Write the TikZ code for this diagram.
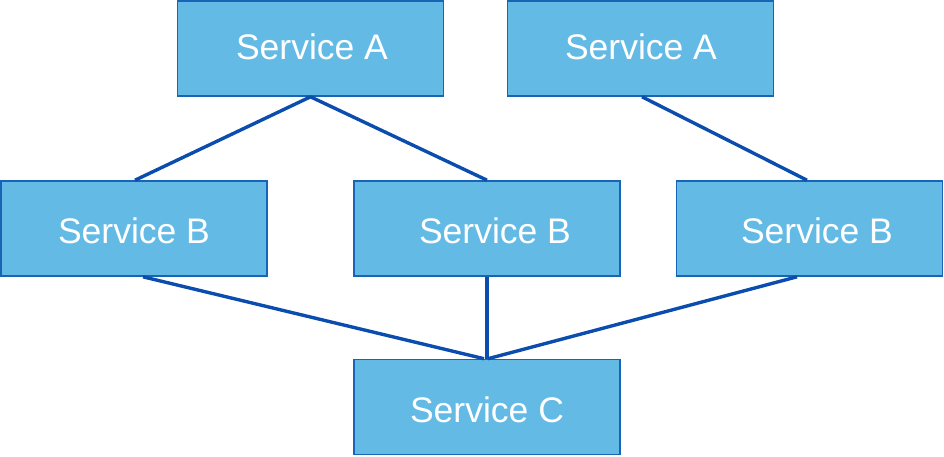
\documentclass[tikz,border=0pt]{standalone}
\usepackage{fontspec}
\setmainfont{Liberation Sans}
\usetikzlibrary{calc}
\definecolor{boxfill}{HTML}{63BBE5}
\definecolor{boxline}{HTML}{1A64B8}
\definecolor{linkcol}{HTML}{0A4DAE}
\begin{document}
\begin{tikzpicture}[x=1pt,y=-1pt,
  svc/.style={draw=boxline, fill=boxfill, line width=1.6pt, minimum width=266pt, minimum height=95pt, inner sep=0pt},
  svctext/.style={text=white, font=\fontsize{35.5}{40}\selectfont, inner sep=0pt},
  link/.style={draw=linkcol, line width=3.4pt}]
\useasboundingbox (0,0) rectangle (944,456);
\node[svc, label={[svctext, xshift=1.5pt, yshift=2pt]center:Service A}] (a1) at (310.5,48.5) {};
\node[svc, label={[svctext, xshift=0.5pt, yshift=2pt]center:Service A}] (a2) at (640.5,48.5) {};
\node[svc, label={[svctext, yshift=-2pt]center:Service B}] (b1) at (134,228.5) {};
\node[svc, label={[svctext, xshift=8pt, yshift=-2pt]center:Service B}] (b2) at (487,228.5) {};
\node[svc, label={[svctext, xshift=7.5pt, yshift=-2pt]center:Service B}] (b3) at (809.5,228.5) {};
\node[svc, label={[svctext, yshift=-3pt]center:Service C}] (c) at (487,407) {};
\draw[link] (a1.south) -- ($(b1.north)+(1,0)$);
\draw[link] (a1.south) -- (b2.north);
\draw[link] ($(a2.south)+(1.5,0)$) -- ($(b3.north)+(-2.5,0)$);
\draw[link] ($(b1.south)+(9,0)$) -- ($(c.north)+(-3,0)$);
\draw[link] (b2.south) -- (c.north);
\draw[link] ($(b3.south)+(-12.5,0)$) -- ($(c.north)+(1,0)$);
\end{tikzpicture}
\end{document}
